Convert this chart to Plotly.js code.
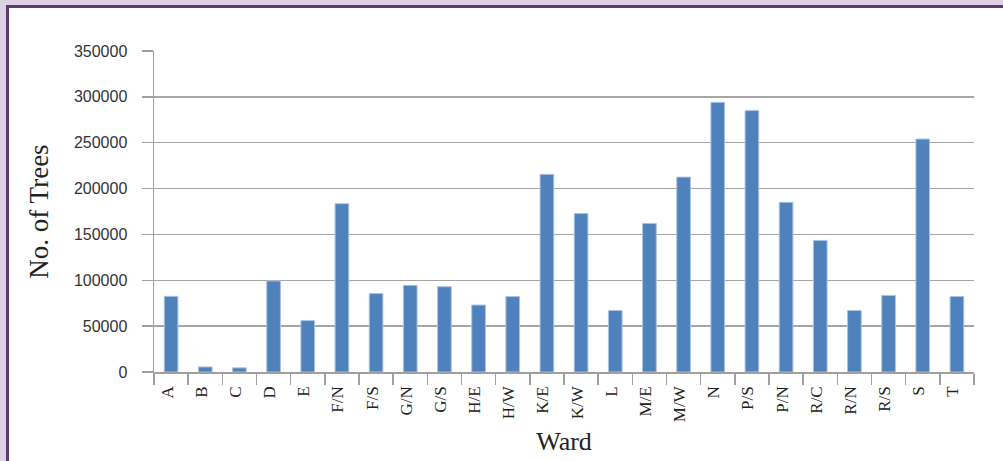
<!DOCTYPE html>
<html>
<head>
<meta charset="utf-8">
<script src="https://cdn.plot.ly/plotly-3.0.1.min.js"></script>
<style>
  html, body { margin: 0; padding: 0; width: 1003px; height: 461px; overflow: hidden; background: #ddd1e2; }
  #frame { position: absolute; left: 6px; top: 5px; width: 997px; height: 456px; background: #ffffff;
           border-left: 3px solid #5d3d71; border-top: 3px solid #5d3d71; }
  #chart { position: absolute; left: 0; top: 0; width: 994px; height: 453px; }
</style>
</head>
<body>
<div id="frame"><div id="chart"></div></div>
<script>
const wards = ["A","B","C","D","E","F/N","F/S","G/N","G/S","H/E","H/W","K/E","K/W","L","M/E","M/W","N","P/S","P/N","R/C","R/N","R/S","S","T"];
const trees = [82500, 5500, 4500, 99300, 56000, 183500, 85500, 94500, 93000, 73000, 82200, 215500, 172800, 67000, 162000, 212500, 294000, 285000, 185000, 143500, 67000, 83500, 254000, 82300];
const yTicks = [0, 50000, 100000, 150000, 200000, 250000, 300000, 350000];

const trace = {
  type: "bar",
  x: wards,
  y: trees,
  marker: { color: "#4f81bd", line: { color: "#a9c3e4", width: 1 } },
  hoverinfo: "x+y"
};

const layout = {
  width: 994, height: 453,
  margin: { l: 145, r: 29, t: 43, b: 89, pad: 0 },
  paper_bgcolor: "#ffffff",
  plot_bgcolor: "#ffffff",
  showlegend: false,
  bargap: 0.6,
  xaxis: {
    type: "category",
    tickson: "boundaries",
    ticks: "outside",
    ticklen: 11,
    tickcolor: "#a0a0a0",
    tickwidth: 1.5,
    ticklabelstandoff: 6,
    ticklabelshift: -4,
    showline: true,
    linecolor: "#a0a0a0",
    linewidth: 1.5,
    showgrid: false,
    tickangle: -90,
    tickfont: { family: "Liberation Serif, Times New Roman, serif", size: 17, color: "#222222" },
    title: { text: "Ward", font: { family: "Liberation Serif, Times New Roman, serif", size: 26, color: "#222222" }, standoff: 10 }
  },
  yaxis: {
    range: [0, 350000],
    tickvals: yTicks,
    ticktext: yTicks.map(String),
    ticks: "outside",
    ticklen: 11,
    tickcolor: "#a0a0a0",
    tickwidth: 1.5,
    ticklabelstandoff: 11,
    showline: true,
    linecolor: "#a0a0a0",
    linewidth: 1.5,
    showgrid: true,
    gridcolor: "#a6a6a6",
    gridwidth: 1.5,
    zeroline: false,
    tickfont: { family: "Liberation Sans, Arial, sans-serif", size: 16, color: "#333333" },
    title: { text: "No. of Trees", font: { family: "Liberation Serif, Times New Roman, serif", size: 27, color: "#222222" }, standoff: 17 }
  }
};

Plotly.newPlot("chart", [trace], layout, { displayModeBar: false, staticPlot: true });
</script>
</body>
</html>
